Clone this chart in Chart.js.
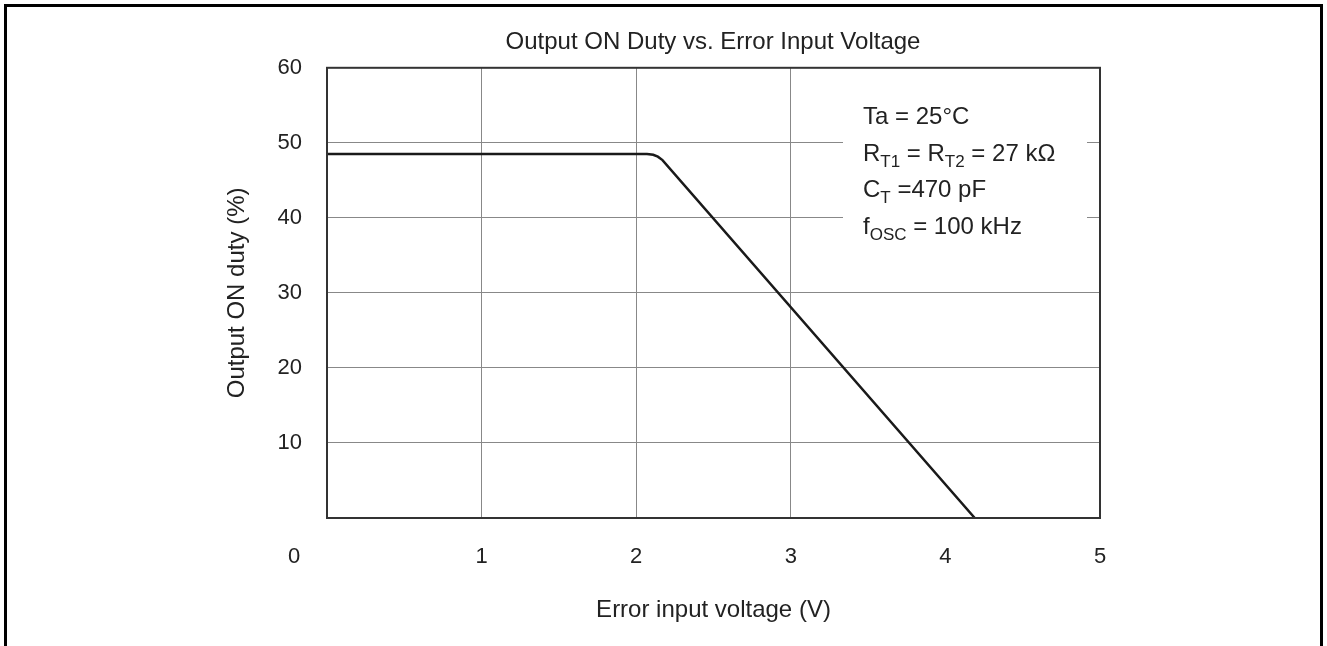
<!DOCTYPE html>
<html>
<head>
<meta charset="utf-8">
<title>Output ON Duty vs. Error Input Voltage</title>
<script src="https://cdn.jsdelivr.net/npm/chart.js@4.4.1/dist/chart.umd.min.js"></script>
<style>
    html, body { margin: 0; padding: 0; background: #fff; }
    #wrap { position: relative; width: 1327px; height: 646px; }
</style>
</head>
<body>
<div id="wrap"><canvas id="dutyChart"></canvas></div>
<script>
// data
const errorVoltage = [0, 2.07, 2.11, 2.14, 2.17, 4.19];
const onDuty = [48.5, 48.5, 48.4, 48.15, 47.7, 0];

const xTicks = [0, 1, 2, 3, 4, 5];
const yTicks = [0, 10, 20, 30, 40, 50, 60];

// conditions box, segments: [text, isSubscript]
const noteLines = [
    [['Ta = 25\u00B0C', false]],
    [['R', false], ['T1', true], [' = R', false], ['T2', true], [' = 27 k\u03A9', false]],
    [['C', false], ['T', true], [' =470 pF', false]],
    [['f', false], ['OSC', true], [' = 100 kHz', false]]
];

const FONT = "'Liberation Sans', Arial, sans-serif";
const TEXT = '#222';

const extras = {
    id: 'extras',
    beforeDraw(chart) {
        const ctx = chart.ctx;
        ctx.save();
        ctx.fillStyle = '#fff';
        ctx.fillRect(0, 0, chart.width, chart.height);
        ctx.restore();
    },
    beforeDatasetsDraw(chart) {
        // white box behind the conditions text, hides the grid there
        const a = chart.chartArea, ctx = chart.ctx;
        ctx.save();
        ctx.fillStyle = '#fff';
        ctx.fillRect(a.left + 516, a.top + 1, 244, 223);
        ctx.restore();
    },
    afterDraw(chart) {
        const a = chart.chartArea, ctx = chart.ctx;
        ctx.save();

        // plot frame
        ctx.strokeStyle = '#333';
        ctx.lineWidth = 2;
        ctx.strokeRect(a.left, a.top, a.right - a.left, a.bottom - a.top);

        // outer frame
        ctx.strokeStyle = '#000';
        ctx.lineWidth = 3;
        ctx.strokeRect(5.5, 5.5, 1316, 700);

        // origin label sits left of the corner
        ctx.fillStyle = TEXT;
        ctx.font = '22px ' + FONT;
        ctx.textAlign = 'center';
        ctx.textBaseline = 'middle';
        ctx.fillText('0', chart.scales.x.getPixelForValue(0) - 33, a.bottom + 39);

        // conditions text
        ctx.textAlign = 'left';
        ctx.textBaseline = 'alphabetic';
        noteLines.forEach((line, i) => {
            let x = a.left + 536;
            const y = a.top + 56 + i * 36.7;
            line.forEach(([txt, sub]) => {
                ctx.font = (sub ? '17px ' : '24px ') + FONT;
                ctx.fillText(txt, x, sub ? y + 6 : y);
                x += ctx.measureText(txt).width;
            });
        });
        ctx.restore();
    }
};

new Chart(document.getElementById('dutyChart'), {
    type: 'line',
    data: {
        datasets: [{
            data: errorVoltage.map((v, i) => ({ x: v, y: onDuty[i] })),
            borderColor: '#1a1a1a',
            borderWidth: 2.5,
            pointRadius: 0,
            tension: 0,
            fill: false
        }]
    },
    options: {
        responsive: true,
        maintainAspectRatio: false,
        animation: false,
        layout: { padding: { left: 99, right: 0, top: 0, bottom: 0 } },
        plugins: {
            legend: { display: false },
            tooltip: { enabled: false },
            title: {
                display: true,
                text: 'Output ON Duty vs. Error Input Voltage',
                color: TEXT,
                font: { family: FONT, size: 24, weight: 'normal' },
                padding: { top: 28, bottom: 11 }
            }
        },
        scales: {
            x: {
                type: 'linear',
                min: xTicks[0],
                max: xTicks[xTicks.length - 1],
                afterBuildTicks: (s) => { s.ticks = xTicks.map(v => ({ value: v })); },
                afterFit: (s) => { s.height = 128; },
                grid: {
                    // no grid line at 4 V in the original
                    color: (c) => c.tick && c.tick.value === 4 ? 'rgba(0,0,0,0)' : '#888',
                    lineWidth: 1,
                    drawTicks: false
                },
                border: { color: '#333', width: 2 },
                ticks: {
                    padding: 26,
                    color: TEXT,
                    font: { family: FONT, size: 22 },
                    maxRotation: 0,
                    callback: (v) => v === 0 ? '' : v
                },
                title: {
                    display: true,
                    text: 'Error input voltage (V)',
                    color: TEXT,
                    font: { family: FONT, size: 24 },
                    padding: { top: 0, bottom: 21 }
                }
            },
            y: {
                min: yTicks[0],
                max: yTicks[yTicks.length - 1],
                afterBuildTicks: (s) => { s.ticks = yTicks.map(v => ({ value: v })); },
                afterFit: (s) => { s.width = 228; },
                grid: { color: '#888', lineWidth: 1, drawTicks: false },
                border: { color: '#333', width: 2 },
                ticks: {
                    padding: 25,
                    color: TEXT,
                    font: { family: FONT, size: 22 },
                    callback: (v) => v === 0 ? '' : v
                },
                title: {
                    display: true,
                    text: 'Output ON duty (%)',
                    color: TEXT,
                    font: { family: FONT, size: 24 },
                    padding: { top: 124, bottom: 0 }
                }
            },
            // empty right-hand strip so the plot ends where the original does
            yRight: {
                position: 'right',
                min: yTicks[0],
                max: yTicks[yTicks.length - 1],
                afterFit: (s) => { s.width = 227; },
                grid: { display: false },
                border: { display: false },
                ticks: { display: false }
            }
        }
    },
    plugins: [extras]
});
</script>
</body>
</html>
